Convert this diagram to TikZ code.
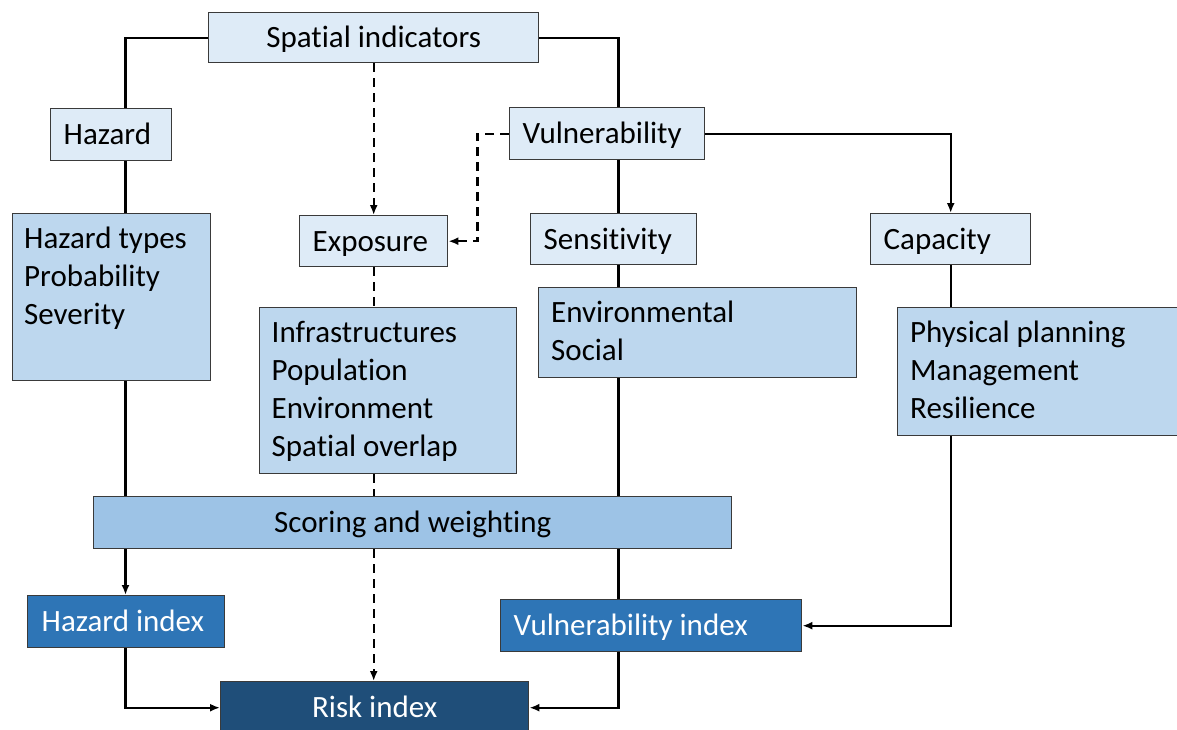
\documentclass[tikz,border=0pt]{standalone}
\usepackage{fontspec}
\setmainfont{Carlito}[Ligatures={NoCommon}]
\usetikzlibrary{arrows.meta,calc}
\definecolor{clight}{HTML}{DEEBF7}
\definecolor{cmid}{HTML}{BDD7EE}
\definecolor{cscore}{HTML}{9DC3E6}
\definecolor{cidx}{HTML}{2E75B6}
\definecolor{crisk}{HTML}{1F4E79}
\definecolor{cborder}{HTML}{3A3A3A}
\tikzset{
  bx/.style={draw=cborder, line width=1.4pt, rectangle, anchor=north west, inner ysep=0pt,
    font=\fontsize{31}{38}\selectfont, text height=20pt, text depth=0pt},
  lft/.style 2 args={inner xsep=13pt, text width=#1, align=flush left, minimum height=#2},
  ctr/.style 2 args={inner xsep=0pt, minimum width=#1, minimum height=#2, align=center},
  big/.style 2 args={inner sep=0pt, minimum width=#1, minimum height=#2},
  txt/.style={anchor=north west, inner sep=0pt, align=flush left, font=\fontsize{31}{38}\selectfont},
  conn/.style={line width=2.3pt, black},
  arr/.style={conn, -{Latex[length=10pt,width=8pt]}},
  dsh/.style={conn, dash pattern=on 9pt off 6pt},
  darr/.style={dsh, -{Latex[length=10pt,width=8pt]}}
}
\begin{document}
\begin{tikzpicture}[x=1pt,y=-1pt]
\useasboundingbox (0,0) rectangle (1177,729);
\begin{scope}
\clip (0,0) rectangle (1177,729);
% named guide coordinates for vertical connector lines
\coordinate (hx) at (125.5,0);
\coordinate (vx) at (618.5,0);
\coordinate (dx) at (477.5,0);

\node[bx, ctr={330pt}{50pt}, fill=clight] (spatial) at (208,12) {Spatial indicators};
\node[bx, lft={95pt}{52pt}, fill=clight] (hazard) at (50,108) {Hazard};
\node[bx, lft={169pt}{52pt}, fill=clight] (vuln) at (509,107) {Vulnerability};
\node[bx, lft={122pt}{51pt}, fill=clight] (exposure) at (299,215) {Exposure};
\node[bx, lft={140pt}{51pt}, fill=clight] (sens) at (530,213) {Sensitivity};
\node[bx, lft={134pt}{51pt}, fill=clight] (cap) at (870,213) {Capacity};
\node[bx, big={198.5pt}{167pt}, fill=cmid] (htypes) at (11.5,213) {};
\node[bx, big={257.5pt}{166pt}, fill=cmid] (infra) at (258.5,307) {};
\node[bx, big={318pt}{90pt}, fill=cmid] (env) at (538,287) {};
\node[bx, big={300pt}{128pt}, fill=cmid] (phys) at (897,307) {};
\node[bx, ctr={638pt}{52pt}, fill=cscore] (scoring) at (93,496) {Scoring and weighting};
\node[bx, lft={171pt}{52pt}, fill=cidx, text=white, inner xsep=14pt, text width=169pt] (hindex) at (27,595) {Hazard index};
\node[bx, lft={275pt}{52pt}, fill=cidx, text=white] (vindex) at (500,599) {Vulnerability index};
\node[bx, ctr={308pt}{52pt}, fill=crisk, text=white] (risk) at (220,681) {Risk index};

\node[txt] (htypestxt) at ($(htypes.north west)+(12.5,8.4)$) {\strut Hazard types\\Probability\\Severity};
\node[txt] (infratxt) at ($(infra.north west)+(13,8.4)$) {\strut Infrastructures\\Population\\Environment\\Spatial overlap};
\node[txt] (envtxt) at ($(env.north west)+(13,8.4)$) {\strut Environmental\\Social};
\node[txt] (phystxt) at ($(phys.north west)+(13,8.4)$) {\strut Physical planning\\Management\\Resilience};

% Hazard branch
\draw[conn] (spatial.west) -| (hazard.north -| hx);
\draw[conn] (hazard.south -| hx) -- (htypes.north -| hx);
\draw[conn] (htypes.south -| hx) -- (scoring.north -| hx);
\draw[arr] (scoring.south -| hx) -- (hindex.north -| hx);
\draw[arr] (hindex.south -| hx) |- (risk.west);

% Vulnerability branch
\draw[conn] (spatial.east) -| (vuln.north -| vx);
\draw[conn] (vuln.south -| vx) -- (sens.north -| vx);
\draw[conn] (sens.south -| vx) -- (env.north -| vx);
\draw[conn] (env.south -| vx) -- (scoring.north -| vx);
\draw[conn] (scoring.south -| vx) -- (vindex.north -| vx);
\draw[arr] (vindex.south -| vx) |- (risk.east);

% Capacity branch
\draw[arr] (vuln.east) -| (cap.north);
\draw[conn] (cap.south) -- (phys.north -| cap.south);
\draw[arr] (phys.south -| cap.south) |- (vindex.east);

% Exposure branch (dashed)
\draw[darr] (spatial.south) -- (exposure.north -| spatial.south);
\draw[darr] (vuln.west) -- (vuln.west -| dx) |- (exposure.east);
\draw[dsh] (exposure.south -| spatial.south) -- (infra.north -| spatial.south);
\draw[dsh] (infra.south -| spatial.south) -- (scoring.north -| spatial.south);
\draw[darr] (scoring.south -| spatial.south) -- (risk.north -| spatial.south);
\end{scope}
\end{tikzpicture}
\end{document}
